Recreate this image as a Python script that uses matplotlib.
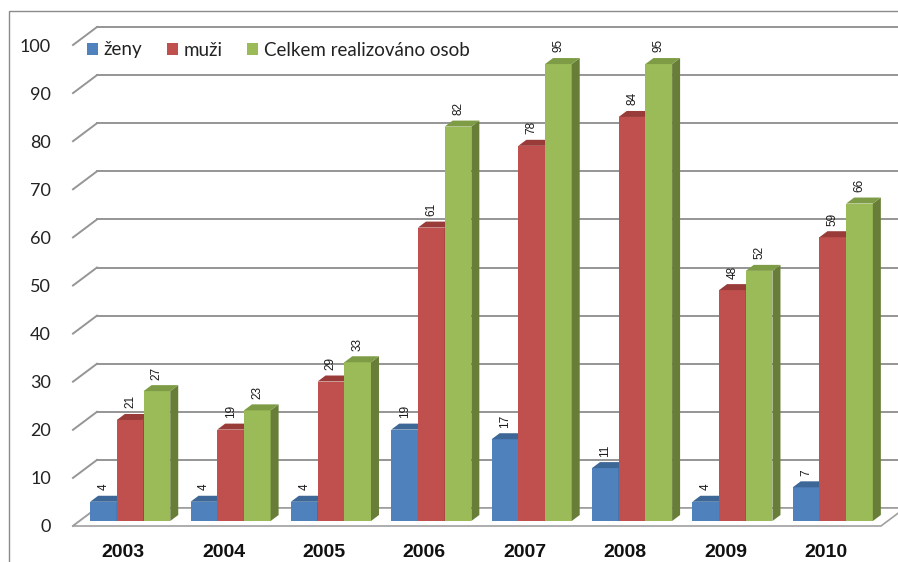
import matplotlib
matplotlib.use("Agg")
import matplotlib.pyplot as plt
from matplotlib.patches import Polygon, Rectangle, Patch

years = ["2003", "2004", "2005", "2006", "2007", "2008", "2009", "2010"]
zeny = [4, 4, 4, 19, 17, 11, 4, 7]
muzi = [21, 19, 29, 61, 78, 84, 48, 59]
celkem = [27, 23, 33, 82, 95, 95, 52, 66]
series_names = ["ženy", "muži", "Celkem realizováno osob"]

front = ["#4F81BD", "#C0504D", "#9BBB59"]
top_c = ["#3D6796", "#983B39", "#7E9C45"]
side_c = ["#345683", "#853230", "#687E38"]

W, H, DPI = 898, 562, 100
fig = plt.figure(figsize=(W / DPI, H / DPI), dpi=DPI)
fig.patch.set_facecolor("white")

# axes geometry in pixels (front plane)
ax_l, ax_b, ax_w, ax_h = 73, 36, 808, 481
ax = fig.add_axes([ax_l / W, ax_b / H, ax_w / W, ax_h / H])
xmin, xmax = -0.5, 7.55
ax.set_xlim(xmin, xmax)
ax.set_ylim(0, 100)
ppx = ax_w / (xmax - xmin)
ppy = ax_h / 100.0

for s in ax.spines.values():
    s.set_visible(False)
ax.set_facecolor("none")

# back wall gridlines + diagonals
wdx, wdy = 24 / ppx, 18 / ppy
grid_col = "#959595"
for v in range(0, 101, 10):
    ax.plot([xmin + wdx, xmax + 1.0], [v + wdy, v + wdy], color=grid_col,
            lw=1.4, clip_on=False, zorder=1)
    ax.plot([xmin, xmin + wdx], [v, v + wdy], color=grid_col, lw=1.4,
            clip_on=False, zorder=1)

# floor
ax.add_patch(Polygon([(xmin, 0), (xmax, 0), (xmax + wdx, wdy), (xmin + wdx, wdy)],
                     closed=True, facecolor="white", edgecolor="#a0a0a0",
                     lw=1.2, clip_on=False, zorder=1.5))

# 3d bars
bw = 0.266
sx, sy = 7 / ppx, 5 / ppy          # placement of bars inside the floor depth
bdx, bdy = 8 / ppx, 6 / ppy         # bar depth
z = 2
for i in range(len(years)):
    for k, vals in enumerate([zeny, muzi, celkem]):
        v = vals[i]
        x0 = i + (k - 1.5) * bw + sx
        x1 = x0 + bw
        b0, t0 = sy, v + sy
        ax.add_patch(Rectangle((x0, b0), bw, v, facecolor=front[k],
                               edgecolor="none", zorder=z))
        ax.add_patch(Polygon([(x1, b0), (x1 + bdx, b0 + bdy), (x1 + bdx, t0 + bdy), (x1, t0)],
                             closed=True, facecolor=side_c[k], edgecolor="none", zorder=z))
        ax.add_patch(Polygon([(x0, t0), (x1, t0), (x1 + bdx, t0 + bdy), (x0 + bdx, t0 + bdy)],
                             closed=True, facecolor=top_c[k], edgecolor="none", zorder=z))
        ax.annotate(str(v), xy=(x0 + bw / 2, t0 + bdy), xytext=(0, 4),
                    textcoords="offset points", rotation=90, ha="center",
                    va="bottom", fontsize=8.5, color="#1a1a1a",
                    family="Liberation Sans", zorder=z + 0.5)
        z += 0.01

ax.set_yticks(range(0, 101, 10))
ax.set_yticklabels([str(v) for v in range(0, 101, 10)], family="Lato",
                   fontsize=13, color="#222222")
ax.set_xticks(range(len(years)))
ax.set_xticklabels(years, family="Liberation Sans", fontweight="bold",
                   fontsize=14, color="#111111")
ax.tick_params(axis="y", length=0, pad=16)
ax.tick_params(axis="x", length=0, pad=13)

handles = [Patch(facecolor=c, edgecolor="none") for c in front]
leg = ax.legend(handles, series_names, loc="center left", ncol=3, frameon=False,
                bbox_to_anchor=(87 / W, 1 - 50 / H), bbox_transform=fig.transFigure,
                prop={"family": "Lato", "size": 13.5}, handlelength=0.6,
                handleheight=0.6, handletextpad=0.3, columnspacing=1.3,
                borderpad=0, borderaxespad=0)
for t in leg.get_texts():
    t.set_color("#222222")

# chart border
fig.add_artist(Rectangle((9 / W, -0.1), 1.2, (H - 11) / H + 0.1,
                         transform=fig.transFigure, facecolor="none",
                         edgecolor="#8a8a8a", lw=1.0))

fig.savefig("out.png", dpi=DPI)
